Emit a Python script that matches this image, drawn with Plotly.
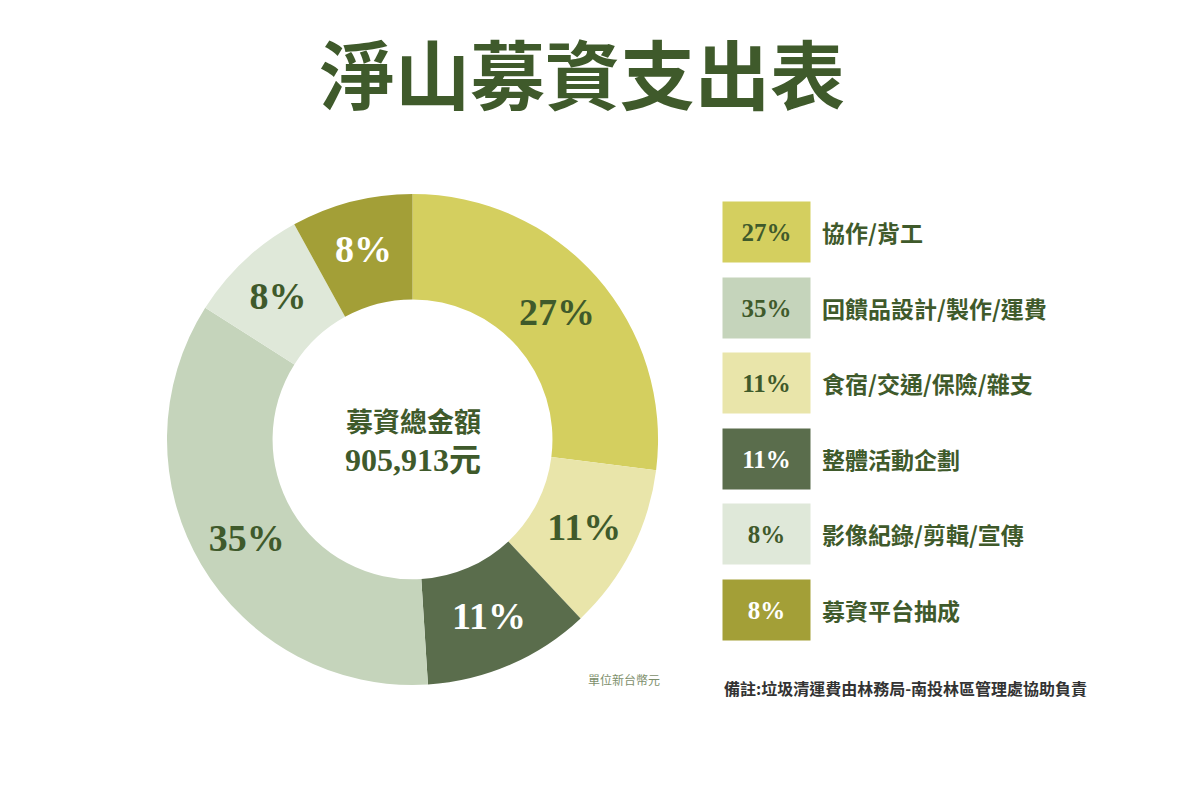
from pathlib import Path

import plotly.graph_objects as go

title = '淨山募資支出表'
categories = [
    '協作/背工',
    '回饋品設計/製作/運費',
    '食宿/交通/保險/雜支',
    '整體活動企劃',
    '影像紀錄/剪輯/宣傳',
    '募資平台抽成',
]
percents = [27, 35, 11, 11, 8, 8]
# clockwise order of the ring, starting at 12 o'clock
ring_order = [
    '協作/背工',
    '食宿/交通/保險/雜支',
    '整體活動企劃',
    '回饋品設計/製作/運費',
    '影像紀錄/剪輯/宣傳',
    '募資平台抽成',
]
center_label = '募資總金額'
total_amount = '905,913元'
unit_note = '單位新台幣元'
footnote = '備註:垃圾清運費由林務局-南投林區管理處協助負責'

colors = {
    '協作/背工': '#d4cf5f',
    '回饋品設計/製作/運費': '#c5d4bb',
    '食宿/交通/保險/雜支': '#e9e5aa',
    '整體活動企劃': '#5a6d4c',
    '影像紀錄/剪輯/宣傳': '#dfe8d9',
    '募資平台抽成': '#a39f37',
}
dark_fills = {'整體活動企劃', '募資平台抽成'}

GREEN = '#3f5a2b'
SERIF = 'Liberation Serif, Noto Sans CJK TC, serif'
CJK = 'Noto Sans CJK TC, sans-serif'


def text_color(cat):
    return '#ffffff' if cat in dark_fills else GREEN


def note(text, x, y, size, color, family=CJK, xanchor='center', **kw):
    return dict(text=text, x=x, y=y, xref='paper', yref='paper',
                xanchor=xanchor, yanchor='middle', showarrow=False,
                font=dict(family=family, size=size, color=color), **kw)


def build_figure():
    pct = dict(zip(categories, percents))
    fig = go.Figure(
        go.Pie(
            labels=ring_order,
            values=[pct[c] for c in ring_order],
            hole=0.57,
            sort=False,
            direction='clockwise',
            rotation=0,
            marker=dict(colors=[colors[c] for c in ring_order], line=dict(width=0)),
            texttemplate='<b>%{value}%</b>',
            textposition='inside',
            insidetextorientation='horizontal',
            textfont=dict(family=SERIF, size=38,
                          color=[text_color(c) for c in ring_order]),
            domain=dict(x=[0.1325, 0.5417], y=[0.1525, 0.769]),
            showlegend=False,
            hoverinfo='label+percent',
        )
    )

    annotations = [
        note(f'<b>{title}</b>', 0.479, 0.92, 75, GREEN),
        note(f'<b>{center_label}</b>', 0.3375, 0.485, 27, GREEN),
        note(f'<b>{total_amount}</b>', 0.3375, 0.435, 32, GREEN, family=SERIF),
        note(unit_note, 0.513, 0.161, 12, '#7d8f6c'),
        note(f'<b>{footnote}</b>', 0.595, 0.15, 16, '#333333', xanchor='left'),
    ]

    # legend column: colour box with percent, then category name
    top, step = 0.72, 0.0945
    for i, (cat, p) in enumerate(zip(categories, percents)):
        y = top - i * step
        annotations.append(note(
            f'<b>{p}%</b>', 0.595, y, 25, text_color(cat), family=SERIF,
            xanchor='left', width=85, height=58, bgcolor=colors[cat],
            align='center', valign='middle',
        ))
        annotations.append(note(f'<b>{cat}</b>', 0.6767, y, 23, GREEN, xanchor='left'))

    fig.update_layout(
        width=1200, height=800,
        margin=dict(l=0, r=0, t=0, b=0),
        paper_bgcolor='#ffffff', plot_bgcolor='#ffffff',
        annotations=annotations,
    )
    return fig


def main():
    fig = build_figure()
    fig.write_html('out.html')
    print(f'generated {Path("out.html")}')


if __name__ == '__main__':
    main()
